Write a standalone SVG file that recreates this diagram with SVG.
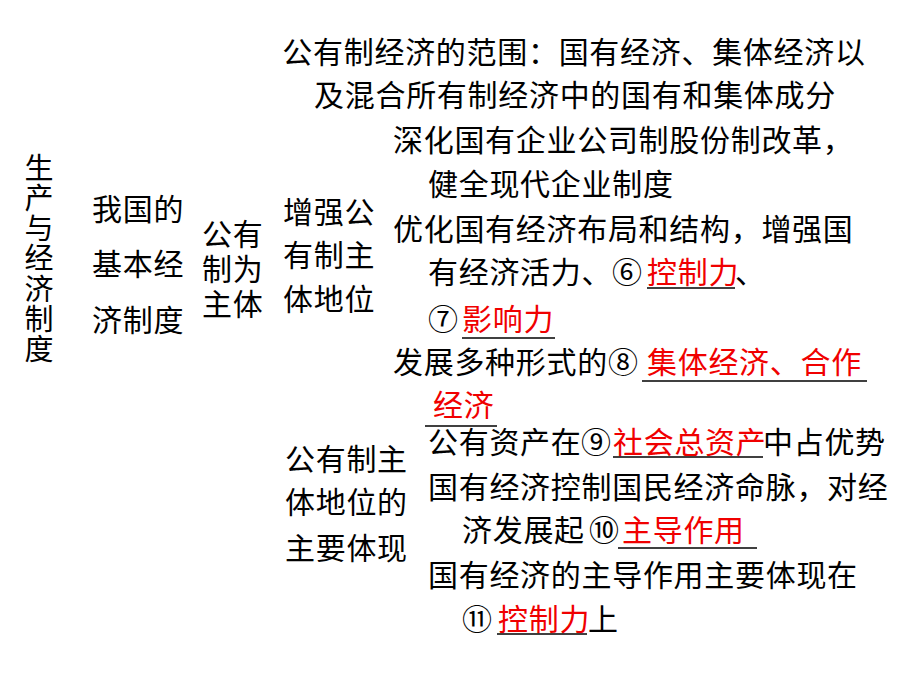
<svg xmlns="http://www.w3.org/2000/svg" width="920" height="690" viewBox="0 0 920 690">
<style>
text{font-family:"Noto Sans CJK SC","Liberation Sans",sans-serif;font-size:30px;fill:#000;letter-spacing:0.7px}
.r{fill:#f00000}
.u{stroke:#000;stroke-width:1.3}
.v{font-size:29px;letter-spacing:1.3px;writing-mode:tb}
</style>
<rect width="920" height="690" fill="#fff"/>
<g id="connectors"/>
<g id="root">
<text class="v" x="39" y="153">生产与经济制度</text>
</g>
<g id="basic">
<text><tspan x="92" y="220">我国的</tspan><tspan x="92" y="275">基本经</tspan><tspan x="92" y="331">济制度</tspan></text>
</g>
<g id="public-main">
<text><tspan x="202" y="245">公有</tspan><tspan x="202" y="280">制为</tspan><tspan x="202" y="315">主体</tspan></text>
</g>
<g id="scope">
<text text-anchor="middle"><tspan x="574" y="63">公有制经济的范围：国有经济、集体经济以</tspan><tspan x="575" y="106">及混合所有制经济中的国有和集体成分</tspan></text>
</g>
<g id="strengthen">
<text><tspan x="283" y="223">增强公</tspan><tspan x="283" y="266">有制主</tspan><tspan x="283" y="310">体地位</tspan></text>
</g>
<g id="strengthen-items">
<text><tspan x="393" y="151">深化国有企业公司制股份制改革，</tspan><tspan x="428" y="195">健全现代企业制度</tspan></text>
<text><tspan x="393" y="240">优化国有经济布局和结构，增强国</tspan><tspan x="428" y="283">有经济活力、</tspan><tspan x="612">⑥</tspan><tspan x="647" class="r">控制力</tspan><tspan x="735">、</tspan><tspan x="428" y="330">⑦</tspan><tspan x="462" class="r">影响力</tspan></text>
<line class="u" x1="647" y1="288" x2="735" y2="288"/>
<line class="u" x1="462" y1="338" x2="555" y2="338"/>
<text><tspan x="393" y="373">发展多种形式的</tspan><tspan x="608">⑧</tspan><tspan x="647" class="r">集体经济、合作</tspan><tspan x="433" y="416" class="r">经济</tspan></text>
<line class="u" x1="642" y1="381" x2="867" y2="381"/>
<line class="u" x1="425" y1="426" x2="497" y2="426"/>
</g>
<g id="embodiment">
<text><tspan x="285" y="470">公有制主</tspan><tspan x="285" y="513">体地位的</tspan><tspan x="285" y="559">主要体现</tspan></text>
</g>
<g id="embodiment-items">
<text x="428" y="453">公有资产在<tspan x="581">⑨</tspan><tspan x="613" class="r">社会总资产</tspan><tspan x="763">中占优势</tspan></text>
<line class="u" x1="613" y1="457" x2="763" y2="457"/>
<text><tspan x="428" y="498">国有经济控制国民经济命脉，对经</tspan><tspan x="462" y="541">济发展起</tspan><tspan x="589">⑩</tspan><tspan x="622" class="r">主导作用</tspan></text>
<line class="u" x1="618" y1="548" x2="757" y2="548"/>
<text><tspan x="428" y="586">国有经济的主导作用主要体现在</tspan><tspan x="462" y="630">⑪</tspan><tspan x="498" class="r">控制力</tspan><tspan x="588">上</tspan></text>
<line class="u" x1="497" y1="634" x2="587" y2="634"/>
</g>
</svg>
